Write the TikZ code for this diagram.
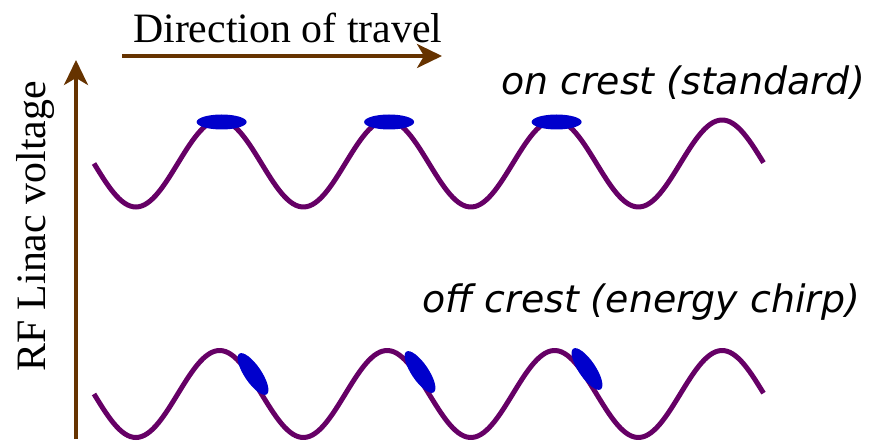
\documentclass[tikz,border=0pt]{standalone}
\usepackage{fontspec}
\setmainfont{Liberation Serif}
\newfontfamily\labelsans{DejaVu Sans}
\usetikzlibrary{arrows.meta}
\definecolor{wavepurple}{HTML}{660066}
\definecolor{bunchblue}{HTML}{0000CC}
\definecolor{axisbrown}{HTML}{663300}
\tikzset{
  wave/.style={draw=wavepurple, line width=5bp},
  bunch/.style={fill=bunchblue},
  axisarrow/.style={draw=axisbrown, line width=3.5bp, -{Stealth[length=25bp, width=24bp, inset=7bp]}},
  serifbig/.style={font=\fontsize{42}{50}\selectfont, inner sep=0pt},
  italabel/.style={font=\labelsans\itshape\fontsize{38}{45}\selectfont, inner sep=0pt},
}
\begin{document}
\begin{tikzpicture}[x=1bp, y=-1bp]
\useasboundingbox (0,0) rectangle (869,442);
% axes
\coordinate (hstart) at (122,56);
\coordinate (hend) at (442,56);
\coordinate (vstart) at (76,439);
\coordinate (vend) at (76,60);
\draw[axisarrow] (hstart) -- (hend);
\draw[axisarrow] (vstart) -- (vend);
% labels
\node[serifbig, anchor=base west] (dir) at (133,43) {Direction of travel};
\node[serifbig, rotate=90, anchor=base] (volt) at (45,226.5) {RF Linac voltage};
\node[italabel, anchor=base west] (on) at (501,95) {on crest (standard)};
\node[italabel, anchor=base west] (off) at (422,313) {off crest (energy chirp)};
% waves
\draw[wave] plot[domain=0:4, samples=240, variable=\t] ({94+167.5*\t}, {163.5+43.5*sin(360*\t)});
\draw[wave] plot[domain=0:4, samples=240, variable=\t] ({94+167.5*\t}, {394+43.5*sin(360*\t)});
% on-crest bunches
\foreach \cx in {221.6, 389.1, 556.6} {
  \fill[bunch] (\cx,122) ellipse [x radius=25, y radius=7.5];
}
% off-crest bunches
\foreach \cx/\cy in {253/374, 420/372, 587/369} {
  \fill[bunch, rotate around={-56:(\cx,\cy)}] (\cx,\cy) ellipse [x radius=24.5, y radius=8.5];
}
\end{tikzpicture}
\end{document}
